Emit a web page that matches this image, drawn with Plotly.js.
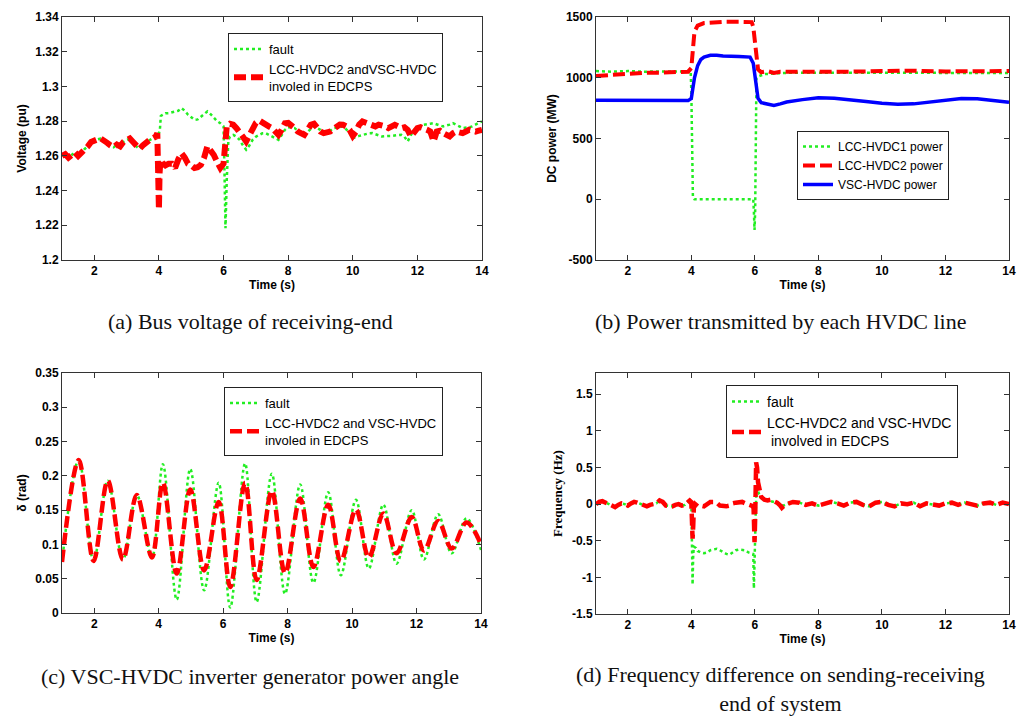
<!DOCTYPE html>
<html><head><meta charset="utf-8">
<script src="https://cdn.plot.ly/plotly-3.0.1.min.js"></script>
<style>html,body{margin:0;padding:0;background:#fff}#chart{width:1017px;height:717px}</style>
</head><body><div id="chart"></div>
<script>
// ---------- shared axis values ----------
const xTicks = [2, 4, 6, 8, 10, 12, 14];
const xTickText = ['2', '4', '6', '8', '10', '12', '14'];

// ---------- (a) bus voltage (pu) : [time, value] ----------
const voltPre = [[1.0,1.260],[1.1,1.261],[1.2,1.259],[1.3,1.2605],[1.4,1.262],[1.5,1.260],[1.6,1.2615],[1.7,1.264],[1.8,1.2655],[1.9,1.268],[2.0,1.269],[2.1,1.2695],[2.2,1.270],[2.3,1.269],[2.4,1.2675],[2.5,1.266],[2.6,1.265],[2.7,1.2665],[2.8,1.2655],[2.9,1.268],[3.0,1.269],[3.1,1.270],[3.2,1.268],[3.3,1.2655],[3.4,1.264],[3.5,1.266],[3.6,1.268],[3.7,1.269],[3.8,1.270],[3.9,1.271],[3.95,1.273]];
const voltFault = [[4.0,1.273],[4.03,1.275],[4.06,1.283],[4.1,1.2835],[4.2,1.2845],[4.3,1.2846],[4.4,1.285],[4.5,1.2856],[4.6,1.286],[4.7,1.2875],[4.8,1.286],[4.9,1.2837],[5.0,1.282],[5.1,1.2808],[5.2,1.281],[5.3,1.2827],[5.4,1.284],[5.5,1.2856],[5.6,1.284],[5.7,1.2817],[5.8,1.280],[5.9,1.2788],[6.0,1.277],[6.03,1.25],[6.06,1.2183],[6.1,1.2462],[6.15,1.2692],[6.2,1.271],[6.3,1.2721],[6.4,1.271],[6.5,1.2692],[6.6,1.266],[6.7,1.2635],[6.8,1.266],[6.9,1.2692],[7.0,1.271],[7.1,1.2721],[7.2,1.273],[7.3,1.2731],[7.4,1.272],[7.5,1.2712],[7.6,1.270],[7.7,1.2692],[7.8,1.272],[7.9,1.275],[8.0,1.2765],[8.2,1.276],[8.4,1.273],[8.5,1.2721],[8.7,1.2755],[8.8,1.277],[9.0,1.275],[9.1,1.274],[9.3,1.2745],[9.4,1.276],[9.6,1.2765],[9.7,1.277],[9.9,1.2735],[10.0,1.2702],[10.2,1.2715],[10.3,1.2721],[10.5,1.273],[10.6,1.2731],[10.8,1.272],[10.9,1.2712],[11.1,1.2715],[11.2,1.2715],[11.4,1.272],[11.5,1.2721],[11.6,1.271],[11.7,1.2683],[11.8,1.272],[11.9,1.275],[12.0,1.2765],[12.2,1.2779],[12.4,1.2785],[12.5,1.2788],[12.7,1.2775],[12.8,1.277],[13.0,1.278],[13.1,1.2788],[13.3,1.277],[13.4,1.276],[13.6,1.2765],[13.7,1.277],[13.9,1.279],[14.0,1.2798]];
const voltEdcps = [[4.0,1.229],[4.02,1.250],[4.05,1.258],[4.1,1.256],[4.2,1.2545],[4.3,1.2555],[4.4,1.2555],[4.5,1.253],[4.6,1.258],[4.7,1.2615],[4.8,1.259],[4.9,1.2555],[5.0,1.2545],[5.1,1.253],[5.2,1.2535],[5.3,1.2548],[5.4,1.259],[5.5,1.2655],[5.6,1.263],[5.7,1.2605],[5.8,1.2565],[5.9,1.253],[6.0,1.2555],[6.05,1.2673],[6.1,1.277],[6.2,1.2785],[6.3,1.278],[6.4,1.276],[6.5,1.274],[6.6,1.271],[6.7,1.2683],[6.8,1.272],[6.9,1.276],[7.0,1.279],[7.1,1.2804],[7.2,1.2795],[7.3,1.2788],[7.4,1.277],[7.5,1.276],[7.6,1.274],[7.7,1.2721],[7.8,1.275],[7.9,1.2788],[8.0,1.279],[8.1,1.2779],[8.2,1.276],[8.3,1.274],[8.4,1.2725],[8.5,1.2721],[8.6,1.275],[8.7,1.2779],[8.8,1.2785],[8.9,1.276],[9.0,1.274],[9.1,1.2731],[9.2,1.2735],[9.3,1.274],[9.4,1.2755],[9.5,1.277],[9.6,1.278],[9.7,1.2779],[9.8,1.277],[9.9,1.275],[10.0,1.2715],[10.1,1.274],[10.2,1.278],[10.3,1.2798],[10.4,1.279],[10.5,1.2779],[10.6,1.277],[10.7,1.277],[10.8,1.278],[10.9,1.2779],[11.0,1.277],[11.1,1.276],[11.2,1.277],[11.3,1.2779],[11.4,1.277],[11.5,1.276],[11.6,1.2765],[11.7,1.275],[11.8,1.2712],[11.9,1.274],[12.0,1.276],[12.1,1.2765],[12.2,1.276],[12.3,1.275],[12.4,1.274],[12.5,1.2683],[12.6,1.274],[12.7,1.2745],[12.8,1.2731],[12.9,1.272],[13.0,1.2712],[13.1,1.273],[13.2,1.274],[13.3,1.2735],[13.4,1.2731],[13.5,1.274],[13.6,1.275],[13.7,1.2745],[13.8,1.274],[13.9,1.2745],[14.0,1.275]];
const voltTicks = [1.2, 1.22, 1.24, 1.26, 1.28, 1.3, 1.32, 1.34];

// ---------- (b) DC power (MW) ----------
const lcc1Power = [[1,1055],[1.5,1050],[2,1055],[2.5,1050],[3,1052],[3.5,1050],[3.98,1050],[4.0,900],[4.02,300],[4.05,20],[4.1,0],[5.0,0],[5.95,0],[5.97,-100],[5.99,-253],[6.01,-100],[6.03,700],[6.05,1000],[6.1,1010],[6.2,1020],[6.3,1030],[6.6,1035],[7,1040],[8,1042],[9,1040],[10,1040],[11,1042],[12,1040],[13,1040],[14,1040]];
const lcc2Power = [[1,1015],[1.5,1025],[2,1035],[2.5,1040],[3,1042],[3.5,1047],[3.9,1050],[4.0,1080],[4.05,1200],[4.1,1380],[4.2,1430],[4.4,1450],[4.7,1455],[5.0,1460],[5.5,1460],[5.9,1458],[5.95,1420],[6.0,1300],[6.05,1150],[6.1,1070],[6.2,1045],[6.4,1055],[6.6,1040],[6.8,1050],[7,1050],[7.5,1048],[8,1052],[9,1050],[10,1055],[11,1058],[12,1052],[13,1052],[14,1055]];
const vscPower = [[1,815],[2,812],[3,812],[3.9,812],[4.0,830],[4.05,900],[4.1,1000],[4.2,1100],[4.3,1150],[4.4,1170],[4.6,1185],[4.8,1185],[5.0,1180],[5.5,1175],[5.85,1170],[5.95,1120],[6.0,1030],[6.05,900],[6.1,830],[6.2,795],[6.4,780],[6.6,772],[6.8,785],[7,800],[7.5,820],[8,835],[8.5,832],[9,822],[9.5,805],[10,790],[10.5,782],[11,785],[11.5,800],[12,820],[12.5,830],[13,827],[13.5,815],[14,798]];
const powerTicks = [-500, 0, 500, 1000, 1500];
const powerTickText = ['-500', '0', '500', '1000', '1500'];

// ---------- (c) power angle (rad), peaks and troughs ----------
const anglePre = [[1.0,0.0745],[1.52,0.223],[1.98,0.076],[2.42,0.193],[2.89,0.078],[3.32,0.172],[3.79,0.081]];
const angleFault = [[4.13,0.217],[4.56,0.0195],[4.98,0.21],[5.41,0.033],[5.86,0.19],[6.22,0.008],[6.68,0.218],[7.04,0.016],[7.51,0.203],[7.92,0.028],[8.39,0.1875],[8.8,0.044],[9.26,0.176],[9.65,0.055],[10.12,0.165],[10.52,0.065],[10.97,0.158],[11.38,0.072],[11.85,0.15],[12.23,0.078],[12.67,0.144],[13.09,0.087],[13.55,0.138],[14.0,0.092]];
const angleEdcps = [[4.13,0.19],[4.56,0.0575],[4.98,0.18],[5.41,0.062],[5.86,0.162],[6.22,0.038],[6.68,0.19],[7.04,0.048],[7.51,0.178],[7.92,0.058],[8.39,0.167],[8.8,0.067],[9.26,0.158],[9.65,0.0755],[10.12,0.151],[10.52,0.081],[10.97,0.145],[11.38,0.087],[11.85,0.14],[12.23,0.091],[12.67,0.134],[13.09,0.094],[13.55,0.132],[14.0,0.1]];
const angleTicks = [0, 0.05, 0.1, 0.15, 0.2, 0.25, 0.3, 0.35];

// ---------- (d) frequency difference (Hz) ----------
const freqPre = [[1.0,0.0],[1.1,0.03],[1.2,0.04],[1.3,0.02],[1.4,0.0],[1.5,-0.01],[1.6,-0.04],[1.7,-0.01],[1.8,0.01],[1.9,0.0],[2.0,-0.02],[2.1,0.01],[2.2,0.03],[2.3,0.02],[2.4,0.0],[2.5,-0.02],[2.6,-0.03],[2.7,-0.01],[2.8,0.0],[2.9,0.01],[3.0,0.05],[3.1,0.03],[3.2,-0.02],[3.3,-0.03],[3.4,-0.03],[3.5,-0.01],[3.6,0.0],[3.7,-0.02],[3.8,-0.01],[3.9,0.03],[3.95,0.05],[4.0,0.03]];
const freqFault = [[4.02,-0.5],[4.04,-1.1],[4.06,-0.7],[4.08,-0.58],[4.15,-0.6],[4.2,-0.64],[4.3,-0.66],[4.4,-0.67],[4.5,-0.66],[4.6,-0.63],[4.7,-0.62],[4.8,-0.61],[4.9,-0.63],[5.0,-0.66],[5.1,-0.68],[5.2,-0.69],[5.3,-0.66],[5.4,-0.63],[5.5,-0.62],[5.6,-0.62],[5.7,-0.63],[5.8,-0.66],[5.9,-0.67],[5.95,-0.68],[5.97,-1.15],[5.99,-0.8],[6.01,-0.3],[6.03,0.05],[6.05,0.25],[6.08,0.22],[6.12,0.15],[6.2,0.08],[6.3,0.05],[6.4,0.05],[6.5,0.04],[6.6,0.03],[6.7,0.02],[6.8,-0.01],[6.9,-0.02],[7.0,0.0]];
const freqEdcps = [[4.02,-0.2],[4.04,-0.47],[4.06,-0.3],[4.08,-0.05],[4.12,0.0],[4.2,-0.03],[4.3,-0.02],[4.4,-0.03],[4.5,0.0],[4.6,0.03],[4.7,0.03],[4.8,0.02],[4.9,-0.02],[5.0,-0.03],[5.1,-0.03],[5.2,-0.02],[5.3,0.01],[5.4,0.02],[5.5,0.03],[5.6,0.03],[5.7,0.01],[5.8,0.0],[5.9,-0.02],[5.96,-0.05],[5.99,-0.52],[6.01,-0.2],[6.03,0.3],[6.04,0.57],[6.07,0.5],[6.1,0.3],[6.15,0.18],[6.2,0.1],[6.3,0.06],[6.4,0.05],[6.5,0.06],[6.6,0.04],[6.7,0.02],[6.8,-0.02],[6.85,-0.05],[6.9,-0.03],[7.0,0.0]];
const freqPost = [[7.2,0.03],[7.4,0.02],[7.6,-0.01],[7.8,0.01],[8.0,-0.02],[8.2,0.0],[8.4,0.03],[8.6,0.01],[8.8,-0.02],[9.0,0.02],[9.2,0.03],[9.4,-0.01],[9.6,-0.03],[9.8,0.02],[10.0,0.03],[10.2,-0.01],[10.4,-0.03],[10.6,0.01],[10.8,0.0],[11.0,0.02],[11.2,-0.03],[11.4,0.01],[11.6,0.0],[11.8,-0.02],[12.0,0.01],[12.2,0.02],[12.4,-0.01],[12.6,0.02],[12.8,0.0],[13.0,-0.02],[13.2,0.01],[13.4,0.02],[13.6,-0.01],[13.8,0.02],[14.0,0.0]];
const freqTicks = [-1.5, -1, -0.5, 0, 0.5, 1, 1.5];
const freqTickText = ['-1.5', '-1', '-0.5', '0', '0.5', '1', '1.5'];

// ---------- labels ----------
const captions = ['(a) Bus voltage of receiving-end', '(b) Power transmitted by each HVDC line',
  '(c) VSC-HVDC inverter generator power angle', '(d) Frequency difference on sending-receiving<br>end of system'];

// ---------- helpers ----------
const SANS = 'Liberation Sans, Arial, sans-serif';
const SERIF = 'Liberation Serif, Times New Roman, serif';
const GREEN = '#22ee22', RED = '#ff0000', BLUE = '#0000ff';
const X = a => a.map(p => p[0]);
const Y = a => a.map(p => p[1]);
const cat = (...arrs) => [].concat(...arrs);

function tr(pts, name, color, dash, width, xa, ya, legend, shape) {
  return {x: X(pts), y: Y(pts), name, type: 'scatter', mode: 'lines', xaxis: xa, yaxis: ya, legend,
    line: {color, dash, width, shape: shape || 'linear'}};
}
const greenDot = 'dot', redDash = '12px,5px';

const data = [
  tr(cat(voltPre, voltFault), 'fault', GREEN, greenDot, 2.5, 'x', 'y', 'legend'),
  tr(cat(voltPre, voltEdcps), 'LCC-HVDC2 andVSC-HVDC<br>involed in EDCPS', RED, redDash, 6, 'x', 'y', 'legend'),
  tr(lcc1Power, 'LCC-HVDC1 power', GREEN, greenDot, 2.5, 'x2', 'y2', 'legend2'),
  tr(lcc2Power, 'LCC-HVDC2 power', RED, redDash, 4, 'x2', 'y2', 'legend2'),
  tr(vscPower, 'VSC-HVDC power', BLUE, 'solid', 3.5, 'x2', 'y2', 'legend2'),
  tr(cat(anglePre, angleFault), 'fault', GREEN, greenDot, 2.5, 'x3', 'y3', 'legend3', 'spline'),
  tr(cat(anglePre, angleEdcps), 'LCC-HVDC2 and VSC-HVDC<br>involed in EDCPS', RED, redDash, 4.5, 'x3', 'y3', 'legend3', 'spline'),
  tr(cat(freqPre, freqFault, freqPost), 'fault', GREEN, greenDot, 2.5, 'x4', 'y4', 'legend4'),
  tr(cat(freqPre, freqEdcps, freqPost), 'LCC-HVDC2 and VSC-HVDC<br> involved in EDCPS', RED, redDash, 4.5, 'x4', 'y4', 'legend4')
];

const W = 1017, H = 717;
const dx = (a, b) => [a / W, b / W];
const dy = (top, bot) => [1 - bot / H, 1 - top / H];
const tickFont = {family: SANS, size: 12, color: '#000', weight: 'bold'};
const titleFont = {family: SANS, size: 12, color: '#000', weight: 'bold'};

function xAxis(domain, anchor) {
  return {domain, anchor, range: [1, 14], tickvals: xTicks, ticktext: xTickText,
    ticks: 'inside', ticklen: 5, tickcolor: '#333', showline: true, linecolor: '#333', linewidth: 1,
    mirror: 'ticks', showgrid: false, zeroline: false, tickfont: tickFont,
    title: {text: 'Time (s)', font: titleFont, standoff: 3}};
}
function yAxis(domain, anchor, range, vals, text, title, tfont, standoff) {
  return {domain, anchor, range, tickvals: vals, ticktext: text,
    ticks: 'inside', ticklen: 5, tickcolor: '#333', showline: true, linecolor: '#333', linewidth: 1,
    mirror: 'ticks', showgrid: false, zeroline: false, tickfont: tickFont,
    title: {text: title, font: tfont || titleFont, standoff: standoff || 6}};
}
function legendAt(x, y, size) {
  return {x: x / W, y: 1 - y / H, xanchor: 'left', yanchor: 'top', bgcolor: '#fff',
    bordercolor: '#222', borderwidth: 1, font: {family: SANS, size, color: '#000'},
    tracegroupgap: 0, itemwidth: 30};
}

const layout = {
  width: W, height: H, margin: {l: 0, r: 0, t: 0, b: 0},
  paper_bgcolor: '#fff', plot_bgcolor: '#fff', showlegend: true,
  xaxis: xAxis(dx(62, 482), 'y'),
  yaxis: yAxis(dy(17, 260), 'x', [1.2, 1.34], voltTicks, voltTicks.map(String), 'Voltage (pu)'),
  xaxis2: xAxis(dx(596, 1009), 'y2'),
  yaxis2: yAxis(dy(17, 260), 'x2', [-500, 1500], powerTicks, powerTickText, 'DC power (MW)'),
  xaxis3: xAxis(dx(62, 481), 'y3'),
  yaxis3: yAxis(dy(373, 613), 'x3', [0, 0.35], angleTicks, angleTicks.map(String), 'δ (rad)'),
  xaxis4: xAxis(dx(596, 1009), 'y4'),
  yaxis4: yAxis(dy(373, 614), 'x4', [-1.5, 1.79], freqTicks, freqTickText, 'Frequency (Hz)',
    {family: SERIF, size: 13, color: '#000', weight: 'bold'}),
  legend: legendAt(228, 33, 13),
  legend2: legendAt(797, 131, 12),
  legend3: legendAt(224, 387, 13),
  legend4: legendAt(726, 385, 14),
  annotations: [
    {text: captions[0], x: 250 / W, y: 1 - 322 / H},
    {text: captions[1], x: 780 / W, y: 1 - 322 / H},
    {text: captions[2], x: 250 / W, y: 1 - 676 / H},
    {text: captions[3], x: 780 / W, y: 1 - 689 / H}
  ].map(a => Object.assign(a, {xref: 'paper', yref: 'paper', xanchor: 'center', yanchor: 'middle',
    showarrow: false, align: 'center', font: {family: SERIF, size: 22, color: '#111'}}))
};

Plotly.newPlot('chart', data, layout, {displayModeBar: false, staticPlot: true});
</script></body></html>
